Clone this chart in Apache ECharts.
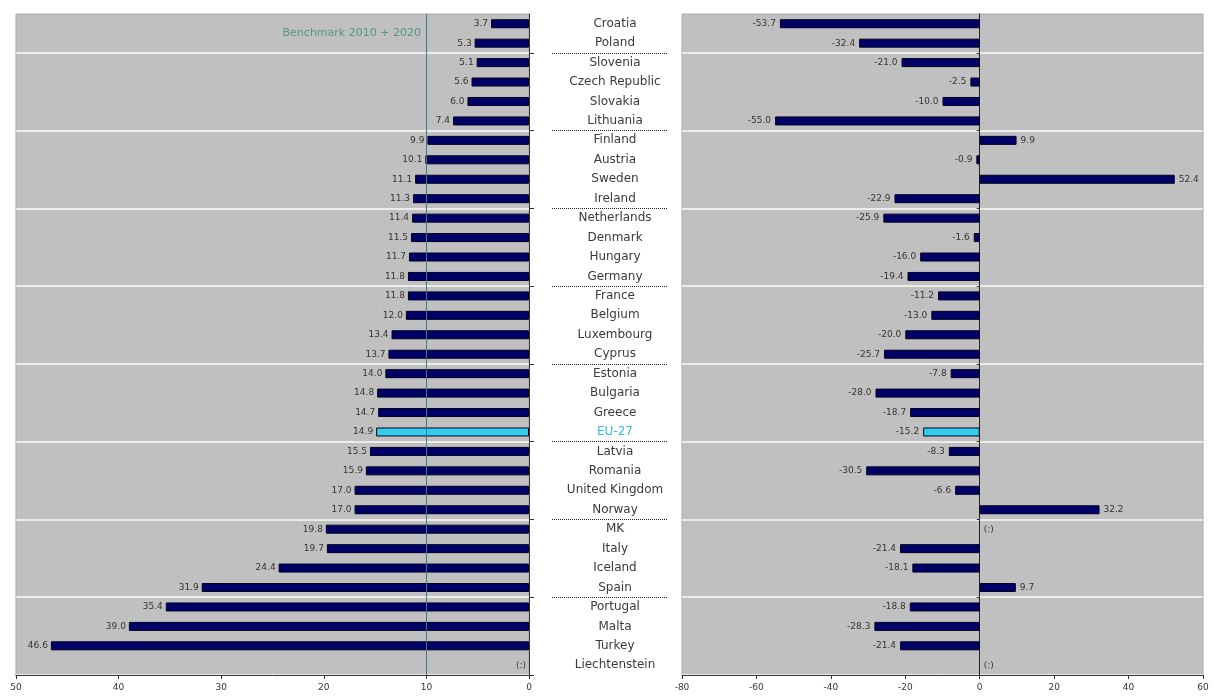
<!DOCTYPE html>
<html>
<head>
<meta charset="utf-8">
<script src="https://cdn.jsdelivr.net/npm/echarts@6/dist/echarts.min.js"></script>
<style>
html,body{margin:0;padding:0;background:#fff;}
#chart{width:1214px;height:699px;}
</style>
</head>
<body>
<div id="chart"></div>
<script>
const categories = ['Croatia','Poland','Slovenia','Czech Republic','Slovakia','Lithuania','Finland','Austria','Sweden','Ireland','Netherlands','Denmark','Hungary','Germany','France','Belgium','Luxembourg','Cyprus','Estonia','Bulgaria','Greece','EU-27','Latvia','Romania','United Kingdom','Norway','MK','Italy','Iceland','Spain','Portugal','Malta','Turkey','Liechtenstein'];
const levels = [3.7,5.3,5.1,5.6,6.0,7.4,9.9,10.1,11.1,11.3,11.4,11.5,11.7,11.8,11.8,12.0,13.4,13.7,14.0,14.8,14.7,14.9,15.5,15.9,17.0,17.0,19.8,19.7,24.4,31.9,35.4,39.0,46.6,null];
const changes = [-53.7,-32.4,-21.0,-2.5,-10.0,-55.0,9.9,-0.9,52.4,-22.9,-25.9,-1.6,-16.0,-19.4,-11.2,-13.0,-20.0,-25.7,-7.8,-28.0,-18.7,-15.2,-8.3,-30.5,-6.6,32.2,null,-21.4,-18.1,9.7,-18.8,-28.3,-21.4,null];
const leftTicks = [0,10,20,30,40,50];
const rightTicks = [-80,-60,-40,-20,0,20,40,60];
const benchmark = 10;
const benchmarkLabel = 'Benchmark 2010 + 2020';
const highlight = 'EU-27';

const FONT = 'DejaVu Sans';
const NAVY = '#000066';
const CYAN = '#33ccee';
const PLOT_TOP = 14, PLOT_H = 661;
const groupFn = function (index) { return index >= 2 && index < categories.length && (index - 2) % 4 === 0; };
// separator axis: one point per band boundary (no boundary gap), so point i = top edge of category i
const sepCats = categories.concat(['\u200b']);

function barItem(v, i, side) {
  if (v === null) {
    return { value: 0, itemStyle: { color: 'rgba(0,0,0,0)', borderWidth: 0 },
      label: { position: side === 'left' ? 'left' : 'right' } };
  }
  const item = { value: v };
  if (categories[i] === highlight) item.itemStyle = { color: CYAN };
  if (side === 'right') item.label = { position: v < 0 ? 'left' : 'right' };
  return item;
}

const chart = echarts.init(document.getElementById('chart'));
const option = {
  animation: false,
  textStyle: { fontFamily: FONT },
  grid: [
    { left: 16, width: 513, top: PLOT_TOP, height: PLOT_H, show: true, backgroundColor: '#c0c0c0', borderColor: '#a8a8a8', borderWidth: 1 },
    { left: 682, width: 521, top: PLOT_TOP, height: PLOT_H, show: true, backgroundColor: '#c0c0c0', borderColor: '#a8a8a8', borderWidth: 1 },
    { left: 552, width: 116, top: PLOT_TOP, height: PLOT_H, show: false }
  ],
  xAxis: [
    { gridIndex: 0, type: 'value', min: leftTicks[0], max: leftTicks[leftTicks.length - 1], interval: 10, inverse: true,
      splitLine: { show: false },
      axisLine: { show: true, lineStyle: { color: '#333' } },
      axisTick: { show: true, length: 4, lineStyle: { color: '#333' } },
      axisLabel: { fontSize: 9, color: '#333', margin: 8, fontFamily: FONT } },
    { gridIndex: 1, type: 'value', min: rightTicks[0], max: rightTicks[rightTicks.length - 1], interval: 20,
      splitLine: { show: false },
      axisLine: { show: true, onZero: false, lineStyle: { color: '#333' } },
      axisTick: { show: true, length: 4, lineStyle: { color: '#333' } },
      axisLabel: { fontSize: 9, color: '#333', margin: 8, fontFamily: FONT } },
    { gridIndex: 2, type: 'value', min: 0, max: 1, show: false }
  ],
  yAxis: [
    { gridIndex: 0, type: 'category', data: categories, inverse: true, position: 'right',
      axisLine: { show: true, lineStyle: { color: '#333' } },
      axisTick: { show: true, interval: groupFn, length: 5, lineStyle: { color: '#333' } },
      axisLabel: { show: true, interval: 0, align: 'center', margin: 86, fontSize: 12, color: '#3a3a3a', fontFamily: FONT,
        formatter: function (v) { return v === highlight ? '{eu|' + v + '}' : v; },
        rich: { eu: { color: '#33bbee', fontSize: 12, fontFamily: FONT } } },
      splitLine: { show: true, interval: groupFn, lineStyle: { color: '#ececec', width: 2 } } },
    { gridIndex: 1, type: 'category', data: categories, inverse: true,
      axisLine: { show: true, onZero: true, lineStyle: { color: '#222' } },
      axisTick: { show: true, interval: groupFn, length: 3, lineStyle: { color: '#333' } },
      axisLabel: { show: false },
      splitLine: { show: true, interval: groupFn, lineStyle: { color: '#ececec', width: 2 } } },
    { gridIndex: 2, type: 'category', data: sepCats, inverse: true, boundaryGap: false,
      axisLine: { show: false }, axisTick: { show: false }, axisLabel: { show: false },
      splitLine: { show: true, interval: groupFn, lineStyle: { color: '#222', type: 'dotted', width: 1 } } }
  ],
  series: [
    { type: 'bar', xAxisIndex: 0, yAxisIndex: 0, barWidth: 9,
      data: levels.map(function (v, i) { return barItem(v, i, 'left'); }),
      itemStyle: { color: NAVY, borderColor: '#000022', borderWidth: 1 },
      label: { show: true, position: 'left', distance: 3, fontSize: 9, color: '#333', fontFamily: FONT,
        formatter: function (p) { return levels[p.dataIndex] === null ? '(:)' : levels[p.dataIndex].toFixed(1); } },
      markLine: { silent: true, symbol: 'none', label: { show: false },
        lineStyle: { color: '#3c7c7c', width: 1, type: 'solid' },
        data: [{ xAxis: benchmark }] } },
    { type: 'scatter', xAxisIndex: 0, yAxisIndex: 0, symbolSize: 1, silent: true,
      itemStyle: { color: 'rgba(0,0,0,0)' },
      data: [[benchmark, categories[0]]],
      label: { show: true, position: 'left', distance: 5, offset: [0, 9], fontSize: 11, color: '#3a8a7a', fontFamily: FONT,
        formatter: benchmarkLabel } },
    { type: 'bar', xAxisIndex: 1, yAxisIndex: 1, barWidth: 9,
      data: changes.map(function (v, i) { return barItem(v, i, 'right'); }),
      itemStyle: { color: NAVY, borderColor: '#000022', borderWidth: 1 },
      label: { show: true, distance: 4, fontSize: 9, color: '#333', fontFamily: FONT,
        formatter: function (p) { return changes[p.dataIndex] === null ? '(:)' : changes[p.dataIndex].toFixed(1); } } }
  ]
};
chart.setOption(option);
</script>
</body>
</html>
